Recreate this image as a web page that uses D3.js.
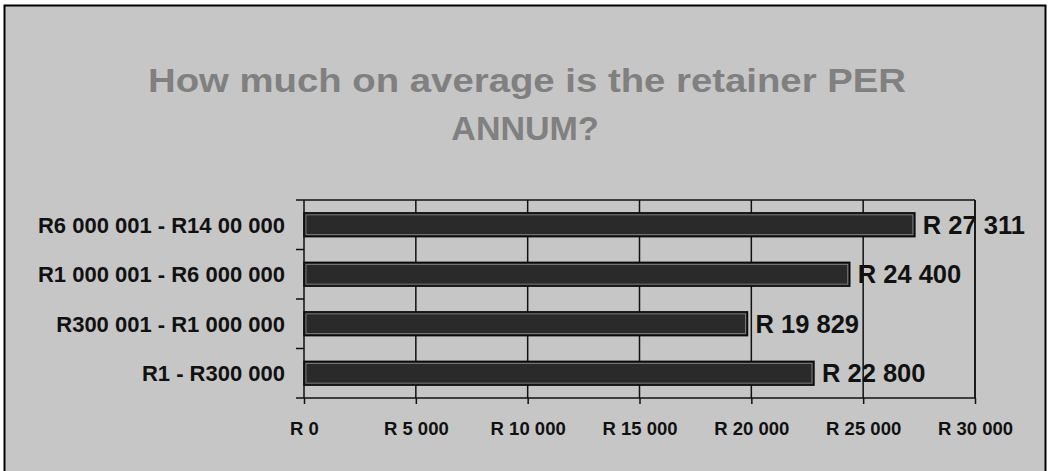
<!DOCTYPE html>
<html><head><meta charset="utf-8">
<script src="https://cdn.jsdelivr.net/npm/d3@7/dist/d3.min.js"></script>
<style>html,body{margin:0;padding:0;background:#fff;}svg{display:block;}</style>
</head><body>
<script>
const categories = ["R6 000 001 - R14 00 000", "R1 000 001 - R6 000 000", "R300 001 - R1 000 000", "R1 - R300 000"];
const values = [27311, 24400, 19829, 22800];
const valueLabels = ["R 27 311", "R 24 400", "R 19 829", "R 22 800"];
const tickValues = [0, 5000, 10000, 15000, 20000, 25000, 30000];
const tickLabels = ["R 0", "R 5 000", "R 10 000", "R 15 000", "R 20 000", "R 25 000", "R 30 000"];
const titleLines = ["How much on average is the retainer PER", "ANNUM?"];

const W = 1048, H = 471;
const svg = d3.select("body").append("svg").attr("width", W).attr("height", H);
const font = "'Liberation Sans', Arial, sans-serif";

svg.append("rect").attr("x", 0).attr("y", 0).attr("width", W).attr("height", H).attr("fill", "#ffffff");
svg.append("rect").attr("x", 4.5).attr("y", 5.5).attr("width", 1041).attr("height", 480)
  .attr("fill", "#c6c6c6").attr("stroke", "#000").attr("stroke-width", 2);

// title
svg.append("text").attr("x", 527).attr("y", 92).attr("text-anchor", "middle")
  .attr("font-family", font).attr("font-weight", "bold").attr("font-size", 34)
  .attr("fill", "#808080").attr("textLength", 758).attr("lengthAdjust", "spacingAndGlyphs")
  .text(titleLines[0]);
svg.append("text").attr("x", 525).attr("y", 140).attr("text-anchor", "middle")
  .attr("font-family", font).attr("font-weight", "bold").attr("font-size", 34)
  .attr("fill", "#808080").text(titleLines[1]);

const m = {left: 304, right: 975, top: 200, bottom: 398};
const x = d3.scaleLinear().domain([0, 30000]).range([m.left, m.right]);
const y = d3.scaleBand().domain(categories).range([m.top, m.bottom]).paddingInner(0.52).paddingOuter(0.26);
const yb = d3.scaleBand().domain(categories).range([m.top, m.bottom]);

// gridlines
svg.append("g").selectAll("line").data(tickValues.slice(1)).join("line")
  .attr("x1", d => x(d)).attr("x2", d => x(d)).attr("y1", m.top).attr("y2", m.bottom)
  .attr("stroke", "#111").attr("stroke-width", 1.5);
// plot border top
svg.append("line").attr("x1", m.left - 8).attr("x2", m.right).attr("y1", m.top).attr("y2", m.top)
  .attr("stroke", "#111").attr("stroke-width", 1.5);

// bars
const bars = svg.append("g");
bars.selectAll("rect.o").data(categories).join("rect").attr("class", "o")
  .attr("x", x(0)).attr("y", d => y(d)).attr("width", (d, i) => x(values[i]) - x(0)).attr("height", y.bandwidth())
  .attr("fill", "#2a2a2a").attr("stroke", "#0a0a0a").attr("stroke-width", 1.5);
bars.selectAll("rect.i").data(categories).join("rect").attr("class", "i")
  .attr("x", x(0) + 2).attr("y", d => y(d) + 2).attr("width", (d, i) => x(values[i]) - x(0) - 4).attr("height", y.bandwidth() - 4)
  .attr("fill", "none").attr("stroke", "#8a8a8a").attr("stroke-width", 0.8);

// x axis
const xAxis = d3.axisBottom(x).tickValues(tickValues).tickSize(6).tickFormat((d, i) => tickLabels[i]);
const gx = svg.append("g").attr("transform", `translate(0,${m.bottom})`).call(xAxis);
gx.select(".domain").attr("stroke", "#111").attr("stroke-width", 1.5).attr("d", `M${m.left - 8},0H${m.right}`);
gx.selectAll(".tick line").attr("stroke", "#111").attr("stroke-width", 1.5);
gx.selectAll(".tick text").attr("font-family", font).attr("font-weight", "bold").attr("font-size", 18.5)
  .attr("fill", "#111").attr("dy", 0).attr("y", 37);

// y axis (category)
const gy = svg.append("g").attr("transform", `translate(${m.left},0)`);
gy.append("line").attr("x1", 0).attr("x2", 0).attr("y1", m.top).attr("y2", m.bottom).attr("stroke", "#111").attr("stroke-width", 1.5);
gy.selectAll("line.t").data(categories.slice(1)).join("line").attr("class", "t")
  .attr("x1", -8).attr("x2", 0).attr("y1", d => yb(d)).attr("y2", d => yb(d)).attr("stroke", "#111").attr("stroke-width", 1.5);
gy.selectAll("text").data(categories).join("text")
  .attr("x", -19).attr("y", d => yb(d) + yb.bandwidth() / 2 + 8).attr("text-anchor", "end")
  .attr("font-family", font).attr("font-weight", "bold").attr("font-size", 22).attr("fill", "#111")
  .text(d => d);

// right border
svg.append("line").attr("x1", m.right).attr("x2", m.right).attr("y1", m.top).attr("y2", m.bottom)
  .attr("stroke", "#111").attr("stroke-width", 1.5);

// value labels
svg.append("g").selectAll("text").data(categories).join("text")
  .attr("x", (d, i) => x(values[i]) + 8).attr("y", d => y(d) + y.bandwidth() / 2 + 9)
  .attr("font-family", font).attr("font-weight", "bold").attr("font-size", 25.5).attr("fill", "#111")
  .text((d, i) => valueLabels[i]);
</script>
</body></html>
